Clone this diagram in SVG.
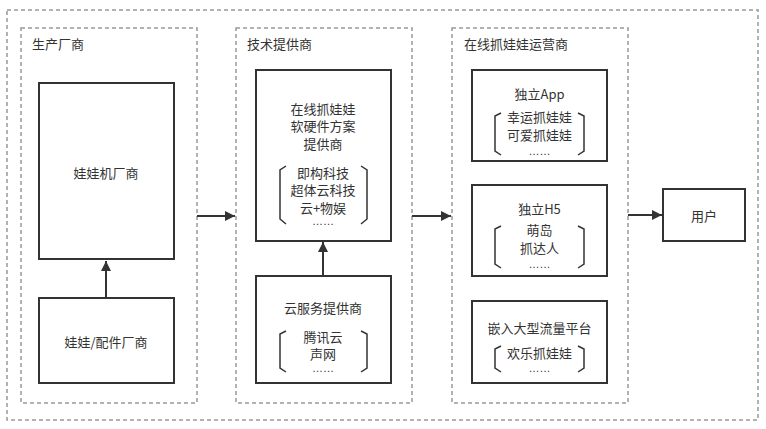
<svg xmlns="http://www.w3.org/2000/svg" width="766" height="429" viewBox="0 0 766 429">
<defs>
<style>
.grp{fill:none;stroke:#999;stroke-width:1.5;stroke-dasharray:4 3}
.box{fill:#fff;stroke:#333;stroke-width:2}
.t{font-family:"Noto Sans CJK SC","Liberation Sans",sans-serif;font-size:13px;fill:#333;text-anchor:middle;dominant-baseline:central}
.gl{font-family:"Noto Sans CJK SC","Liberation Sans",sans-serif;font-size:13px;fill:#333;dominant-baseline:central}
.dots{font-family:"Liberation Sans","Noto Sans CJK SC",sans-serif;font-size:11px;fill:#333;text-anchor:middle}
.br{fill:none;stroke:#333;stroke-width:1.5}
.ln{fill:none;stroke:#333;stroke-width:2}
</style>
<marker id="ah" viewBox="0 0 10 10" refX="10" refY="5" markerWidth="7.5" markerHeight="5" orient="auto" markerUnits="strokeWidth">
<path d="M0,0 L10,5 L0,10 z" fill="#333"/>
</marker>
</defs>
<rect width="766" height="429" fill="#fff"/>
<rect id="outer" class="grp" x="7" y="10" width="751" height="410"/>

<g id="g-factory">
<rect class="grp" x="21" y="28" width="176" height="375"/>
<text class="gl" x="32" y="43">生产厂商</text>
</g>
<g id="g-tech">
<rect class="grp" x="236" y="28" width="176" height="375"/>
<text class="gl" x="247" y="43">技术提供商</text>
</g>
<g id="g-ops">
<rect class="grp" x="452" y="28" width="176" height="375"/>
<text class="gl" x="464" y="43">在线抓娃娃运营商</text>
</g>

<g id="n-machine">
<rect class="box" x="39" y="83" width="135" height="176"/>
<text class="t" x="106" y="172">娃娃机厂商</text>
</g>
<g id="n-parts">
<rect class="box" x="39" y="298" width="135" height="85"/>
<text class="t" x="106" y="341">娃娃/配件厂商</text>
</g>

<g id="n-solution">
<rect class="box" x="256" y="70" width="135" height="171"/>
<text class="t" x="323" y="108">在线抓娃娃</text>
<text class="t" x="323" y="125.5">软硬件方案</text>
<text class="t" x="323" y="143">提供商</text>
<path class="br" d="M286,166 L280,170 L280,219 L286,224"/>
<path class="br" d="M361,166 L367,170 L367,219 L361,224"/>
<text class="t" x="323" y="172">即构科技</text>
<text class="t" x="323" y="189.5">超体云科技</text>
<text class="t" x="323" y="207">云+物娱</text>
<text class="dots" x="323" y="225">……</text>
</g>

<g id="n-cloud">
<rect class="box" x="256" y="276" width="135" height="107"/>
<text class="t" x="323" y="307">云服务提供商</text>
<path class="br" d="M286,331 L280,334 L280,368 L286,372"/>
<path class="br" d="M361,331 L367,334 L367,368 L361,372"/>
<text class="t" x="323" y="336">腾讯云</text>
<text class="t" x="323" y="353.5">声网</text>
<text class="dots" x="323" y="372">……</text>
</g>

<g id="n-app">
<rect class="box" x="472" y="70" width="135" height="91"/>
<text class="t" x="539.5" y="93">独立App</text>
<path class="br" d="M501,113 L495,116 L495,151 L501,155"/>
<path class="br" d="M578,113 L584,116 L584,151 L578,155"/>
<text class="t" x="539.5" y="116.5">幸运抓娃娃</text>
<text class="t" x="539.5" y="134">可爱抓娃娃</text>
<text class="dots" x="539.5" y="155">……</text>
</g>

<g id="n-h5">
<rect class="box" x="472" y="185" width="135" height="91"/>
<text class="t" x="539.5" y="208">独立H5</text>
<path class="br" d="M501,226 L495,229 L495,264 L501,268"/>
<path class="br" d="M578,226 L584,229 L584,264 L578,268"/>
<text class="t" x="539.5" y="229.5">萌岛</text>
<text class="t" x="539.5" y="247">抓达人</text>
<text class="dots" x="539.5" y="268">……</text>
</g>

<g id="n-embed">
<rect class="box" x="472" y="301" width="135" height="82"/>
<text class="t" x="539.5" y="327">嵌入大型流量平台</text>
<path class="br" d="M501,346 L495,349 L495,368 L501,372"/>
<path class="br" d="M578,346 L584,349 L584,368 L578,372"/>
<text class="t" x="539.5" y="352">欢乐抓娃娃</text>
<text class="dots" x="539.5" y="372">……</text>
</g>

<g id="n-user">
<rect class="box" x="663" y="189" width="82" height="52"/>
<text class="t" x="704" y="215">用户</text>
</g>

<g id="connectors">
<line class="ln" x1="106" y1="298" x2="106" y2="261" marker-end="url(#ah)"/>
<line class="ln" x1="323" y1="276" x2="323" y2="242" marker-end="url(#ah)"/>
<line class="ln" x1="197" y1="216" x2="235" y2="216" marker-end="url(#ah)"/>
<line class="ln" x1="412" y1="216" x2="451" y2="216" marker-end="url(#ah)"/>
<line class="ln" x1="628" y1="215" x2="662" y2="215" marker-end="url(#ah)"/>
</g>
</svg>
